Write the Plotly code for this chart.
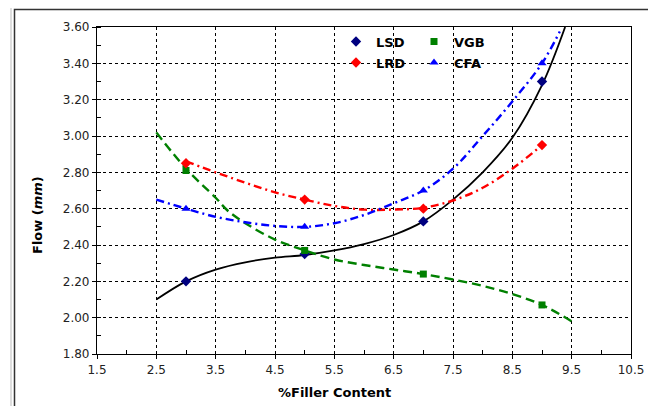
import plotly.graph_objects as go

# ---- data ----
filler_x = [3, 5, 7, 9]
lsd_y = [2.20, 2.35, 2.53, 3.30]
vgb_y = [2.81, 2.37, 2.24, 2.07]
lrd_y = [2.85, 2.65, 2.60, 2.95]
cfa_y = [2.60, 2.50, 2.70, 3.40]

# trend curves
lsd_fit_x = [2.5, 3, 3.5, 4, 4.5, 5, 5.5, 6, 6.5, 7, 7.5, 8, 8.5, 9, 9.39]
lsd_fit_y = [2.10, 2.20, 2.265, 2.305, 2.33, 2.345, 2.37, 2.405, 2.455, 2.53, 2.65, 2.80, 2.99, 3.28, 3.60]

vgb_fit_x = [2.5, 3, 3.5, 3.7, 4, 4.5, 5, 5.5, 6, 6.5, 7, 7.5, 8, 8.5, 9, 9.5]
vgb_fit_y = [3.02, 2.82, 2.66, 2.59, 2.52, 2.43, 2.37, 2.32, 2.29, 2.265, 2.24, 2.21, 2.175, 2.13, 2.07, 1.98]

lrd_fit_x = [3, 3.5, 4, 4.5, 5, 5.5, 6, 6.5, 7, 7.5, 8, 8.5, 9]
lrd_fit_y = [2.86, 2.80, 2.743, 2.69, 2.65, 2.615, 2.595, 2.595, 2.605, 2.645, 2.715, 2.82, 2.95]

cfa_fit_x = [2.5, 3, 3.5, 4, 4.5, 5, 5.5, 6, 6.5, 7, 7.5, 8, 8.5, 9, 9.3]
cfa_fit_y = [2.65, 2.60, 2.555, 2.525, 2.505, 2.50, 2.52, 2.565, 2.63, 2.70, 2.82, 3.00, 3.19, 3.40, 3.575]

x_ticks = [1.5, 2.5, 3.5, 4.5, 5.5, 6.5, 7.5, 8.5, 9.5, 10.5]
y_ticks = [1.80, 2.00, 2.20, 2.40, 2.60, 2.80, 3.00, 3.20, 3.40, 3.60]

FONT = "DejaVu Sans, Arial, sans-serif"
OFF = 8  # page body margin

fig = go.Figure()

# trend lines
fig.add_trace(go.Scatter(x=lsd_fit_x, y=lsd_fit_y, mode="lines", showlegend=False,
                         line=dict(color="black", width=1.8), line_shape="spline", hoverinfo="skip"))
fig.add_trace(go.Scatter(x=vgb_fit_x, y=vgb_fit_y, mode="lines", showlegend=False,
                         line=dict(color="#008000", width=2.4, dash="9px,5px"), line_shape="spline", hoverinfo="skip"))
fig.add_trace(go.Scatter(x=lrd_fit_x, y=lrd_fit_y, mode="lines", showlegend=False,
                         line=dict(color="#FF0000", width=2.4, dash="8px,4px,2px,4px"), line_shape="spline", hoverinfo="skip"))
fig.add_trace(go.Scatter(x=cfa_fit_x, y=cfa_fit_y, mode="lines", showlegend=False,
                         line=dict(color="#0000FF", width=2.4, dash="8px,4px,2px,4px"), line_shape="spline", hoverinfo="skip"))

# markers
fig.add_trace(go.Scatter(x=filler_x, y=lsd_y, mode="markers", name="LSD", legend="legend",
                         marker=dict(symbol="diamond", size=8, color="#000080")))
fig.add_trace(go.Scatter(x=filler_x, y=vgb_y, mode="markers", name="VGB", legend="legend",
                         marker=dict(symbol="square", size=7, color="#008000")))
fig.add_trace(go.Scatter(x=filler_x, y=lrd_y, mode="markers", name="LRD", legend="legend2",
                         marker=dict(symbol="diamond", size=8, color="#FF0000")))
fig.add_trace(go.Scatter(x=filler_x, y=cfa_y, mode="markers", name="CFA", legend="legend2",
                         marker=dict(symbol="triangle-up", size=8, color="#0000FF")))

grid = dict(showgrid=True, gridcolor="black", gridwidth=1, griddash="3px,3px")

fig.update_xaxes(range=[1.5, 10.5], tickvals=x_ticks, ticktext=[f"{v:g}" for v in x_ticks],
                 showline=True, linecolor="black", linewidth=1.2, mirror=True,
                 ticks="outside", ticklen=4, tickcolor="black",
                 minor=dict(tickvals=[2, 3, 4, 5, 6, 7, 8, 9, 10], ticks="inside", ticklen=4,
                            tickcolor="black", showgrid=False),
                 zeroline=False, tickfont=dict(family=FONT, size=12, color="#222"), **grid)
fig.update_yaxes(range=[1.80, 3.60], tickvals=y_ticks, ticktext=[f"{v:.2f}" for v in y_ticks],
                 showline=True, linecolor="black", linewidth=1.2, mirror=True,
                 ticks="outside", ticklen=4, tickcolor="black",
                 minor=dict(dtick=0.1, ticks="inside", ticklen=4, tickcolor="black", showgrid=False),
                 zeroline=False, tickfont=dict(family=FONT, size=12, color="#222"), **grid)

# target page-pixel geometry
W, H = 656 - OFF, 406 - OFF
PL, PR, PT, PB = 97, 631, 27, 354   # plot area in page pixels
L = PL - OFF
T = PT - OFF
R = W - (PR - OFF)
B = H - (PB - OFF)
pw, ph = PR - PL, PB - PT

def px_x(p):
    return (p - PL) / pw

def px_y(p):
    return (PB - p) / ph

legend_common = dict(orientation="h", bgcolor="rgba(0,0,0,0)", borderwidth=0,
                     font=dict(family=FONT, size=13, color="black", weight="bold"),
                     entrywidth=33, entrywidthmode="pixels", itemwidth=30,
                     xanchor="left", yanchor="middle", tracegroupgap=0)

fig.update_layout(
    width=W, height=H,
    margin=dict(l=L, r=R, t=T, b=B),
    paper_bgcolor="white", plot_bgcolor="white",
    font=dict(family=FONT),
    legend=dict(x=px_x(336), y=px_y(41.5), **legend_common),
    legend2=dict(x=px_x(336), y=px_y(62.5), **legend_common),
    annotations=[
        dict(text="<b>%Filler Content</b>", x=px_x(334), y=px_y(392), xref="paper", yref="paper",
             xanchor="center", yanchor="middle",
             showarrow=False, font=dict(family=FONT, size=13, color="black")),
        dict(text="<b>Flow (</b><b><i>mm</i></b><b>)</b>", x=px_x(37), y=px_y(215), xref="paper", yref="paper",
             xanchor="center", yanchor="middle",
             showarrow=False, textangle=-90, font=dict(family=FONT, size=13, color="black")),
    ],
    shapes=[
        dict(type="rect", xref="paper", yref="paper", x0=px_x(14.5), x1=px_x(652.5),
             y0=px_y(430), y1=px_y(9.5), line=dict(color="#333", width=1.5), layer="below"),
        dict(type="line", xref="paper", yref="paper", x0=px_x(11), x1=px_x(11),
             y0=px_y(430), y1=px_y(8), line=dict(color="#bbb", width=1)),
    ],
)

fig.write_html("out.html")
